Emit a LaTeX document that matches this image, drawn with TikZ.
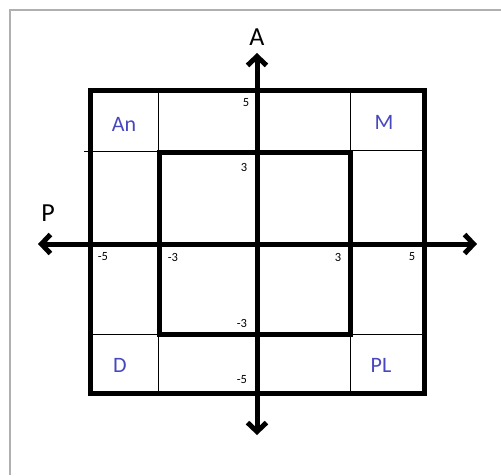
\documentclass[tikz,border=0pt]{standalone}
\usepackage{fontspec}
\setmainfont{Carlito}
\usetikzlibrary{arrows.meta}
\definecolor{lblue}{RGB}{72,72,190}
\definecolor{frame}{RGB}{176,176,176}
\tikzset{
  thickline/.style={line width=5pt},
  thinline/.style={line width=0.9pt},
  axis/.style={line width=5pt,-{Straight Barb[length=9pt,width=19pt,line width=5pt]},shorten >=1pt},
  quad/.style={text=lblue,font=\fontsize{22}{26}\selectfont,inner sep=0pt},
  axlabel/.style={font=\fontsize{26}{30}\selectfont,inner sep=0pt},
  tick/.style={font=\fontsize{12.5}{15}\selectfont,inner sep=0pt}
}
\begin{document}
\begin{tikzpicture}[x=1pt,y=-1pt]
\useasboundingbox (0,0) rectangle (501,475);
% page frame
\draw[frame,line width=1.2pt] (10,475) -- (10,10) -- (501,10);
% thin grid lines in outer ring
\draw[thinline] (158,90) -- (158,152) (350,90) -- (350,152);
\draw[thinline] (158,334) -- (158,393) (350.5,334) -- (350.5,393);
\draw[thinline] (84,151) -- (159,151) (350,150.5) -- (424,150.5);
\draw[thinline] (90,334) -- (159,334) (350,334) -- (424,334);
% squares
\draw[thickline] (90,90) rectangle (424,393.5);
\draw[thickline] (159,152.5) rectangle (350.5,334.5);
% axes
\coordinate (o) at (257,244);
\coordinate (top) at (257,52);
\coordinate (bot) at (257,436);
\coordinate (left) at (37,244);
\coordinate (right) at (478,244);
\draw[axis] (o) -- (top);
\draw[axis] (o) -- (bot);
\draw[axis] (o) -- (left);
\draw[axis] (o) -- (right);
% axis labels
\node[axlabel] (lA) at (257,37) {A};
\node[axlabel] (lP) at (48,213) {P};
% quadrant labels
\node[quad] (an) at (124,124) {An};
\node[quad] (m) at (384,122) {M};
\node[quad] (d) at (120,365) {D};
\node[quad] (pl) at (381,365) {PL};
% ticks
\node[tick] (t1) at (246,103) {5};
\node[tick] (t2) at (244,167) {3};
\node[tick] (t3) at (103,257) {-5};
\node[tick] (t4) at (173,257) {-3};
\node[tick] (t5) at (338,257) {3};
\node[tick] (t6) at (412,257) {5};
\node[tick] (t7) at (242,323) {-3};
\node[tick] (t8) at (242,380) {-5};
\end{tikzpicture}
\end{document}
